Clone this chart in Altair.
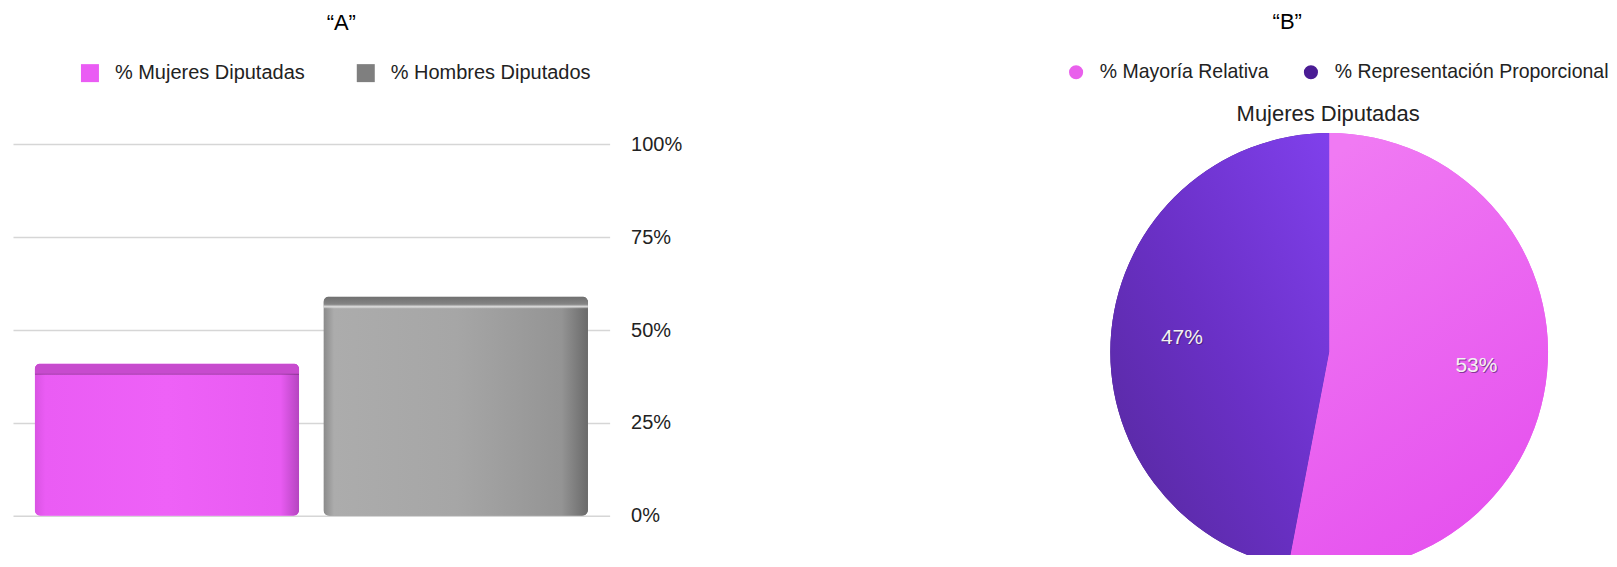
import altair as alt
import pandas as pd

FONT = "Liberation Sans"

# ---------------- data ----------------
bar_categories = ["% Mujeres Diputadas", "% Hombres Diputados"]
bar_values = [41, 59]
axis_ticks = [0, 25, 50, 75, 100]

pie_title = "Mujeres Diputadas"
pie_categories = ["% Mayoría Relativa", "% Representación Proporcional"]
pie_values = [53, 47]

# ---------------- styles ----------------
bar_legend_colors = ["#ea5cf4", "#7f7f7f"]
pie_legend_colors = ["#e960ec", "#4a1c94"]

bar_side_stops = [
    [(0, "#d853e2"), (0.04, "#ea5cf4"), (0.5, "#ee61f7"), (0.93, "#e85bf2"), (1, "#b545c0")],
    [(0, "#8a8a8a"), (0.04, "#acacac"), (0.5, "#a6a6a6"), (0.9, "#949494"), (1, "#6a6a6a")],
]
bar_top_stops = [
    [(0, "#c74bce"), (0.065, "#c74bce"), (0.075, "rgba(0,0,0,0)"), (1, "rgba(0,0,0,0)")],
    [(0, "#6f6f6f"), (0.035, "#858585"), (0.045, "#d6d6d6"), (0.055, "rgba(255,255,255,0)"),
     (1, "rgba(255,255,255,0)")],
]
pie_grads = [
    dict(x1=0.3, y1=0, x2=0.7, y2=1, stops=[(0, "#f07af3"), (1, "#e54fee")]),
    dict(x1=1, y1=0, x2=0, y2=1, stops=[(0, "#8040ec"), (0.5, "#6a30c6"), (1, "#54289a")]),
]


def grad(x1, y1, x2, y2, stops):
    return alt.LinearGradient(
        gradient="linear", x1=x1, y1=y1, x2=x2, y2=y2,
        stops=[alt.GradientStop(offset=o, color=c) for o, c in stops],
    )


# ---------------- left: bar chart ----------------
bar_df = pd.DataFrame({"cat": bar_categories, "value": bar_values})

x_enc = alt.X("cat:N", sort=bar_categories, axis=None,
              scale=alt.Scale(paddingInner=0.084, paddingOuter=0.075))
y_axis = alt.Axis(orient="right", values=axis_ticks, labelExpr="datum.value + '%'",
                  grid=True, gridColor="#d6d6d6", gridWidth=1.5, domain=False, ticks=False,
                  labelPadding=21, labelFont=FONT, labelFontSize=20, labelColor="#222222",
                  title=None)
y_enc = alt.Y("value:Q", scale=alt.Scale(domain=[0, 103], nice=False), axis=y_axis)

legend_bar = alt.Legend(title=None, orient="none", legendX=67, legendY=-70,
                        direction="horizontal", symbolType="square", symbolSize=324,
                        symbolStrokeWidth=0, symbolOpacity=1, labelFont=FONT, labelFontSize=20,
                        labelColor="#222222", labelOffset=15, columnPadding=50, labelLimit=600)

bar_layers = [
    alt.Chart(bar_df).mark_bar(cornerRadius=6).encode(
        x=x_enc, y=y_enc,
        color=alt.Color("cat:N", sort=bar_categories,
                        scale=alt.Scale(domain=bar_categories, range=bar_legend_colors),
                        legend=legend_bar),
    )
]
for cat, side, top in zip(bar_categories, bar_side_stops, bar_top_stops):
    for g in (grad(0, 0, 1, 0, side), grad(0, 0, 0, 1, top)):
        bar_layers.append(
            alt.Chart(bar_df).transform_filter(alt.datum.cat == cat)
            .mark_bar(cornerRadius=6, fill=g).encode(x=x_enc, y=y_enc)
        )

left = alt.layer(*bar_layers).properties(
    width=597, height=383,
    title=alt.TitleParams("“A”", font=FONT, fontSize=22, fontWeight="normal", color="#000000",
                          anchor="middle", frame="group", dx=30, offset=28),
)

# ---------------- right: pie chart ----------------
pie_df = pd.DataFrame({"cat": pie_categories, "value": pie_values,
                       "idx": list(range(len(pie_categories)))})

pie_base = (
    alt.Chart(pie_df)
    .transform_window(cum="sum(value)", sort=[alt.SortField("idx")], frame=[None, 0])
    .transform_calculate(start="datum.cum - datum.value",
                         mid="datum.cum - datum.value / 2",
                         label="datum.value + '%'")
)
theta_scale = alt.Scale(domain=[0, 100], range=[0, 6.283185307179586])
arc_enc = dict(theta=alt.Theta("start:Q", scale=theta_scale, stack=False), theta2="cum:Q")

legend_pie = alt.Legend(title=None, orient="none", legendX=-44, legendY=-71,
                        direction="horizontal", symbolType="circle", symbolSize=200,
                        symbolStrokeWidth=0, symbolOpacity=1, labelFont=FONT, labelFontSize=19.5,
                        labelColor="#222222", labelOffset=14, columnPadding=32, labelLimit=600)

R = 219
pie_layers = [
    pie_base.mark_arc(outerRadius=R).encode(
        **arc_enc,
        color=alt.Color("cat:N", sort=pie_categories,
                        scale=alt.Scale(domain=pie_categories, range=pie_legend_colors),
                        legend=legend_pie),
    )
]
for cat, g in zip(pie_categories, pie_grads):
    pie_layers.append(
        pie_base.transform_filter(alt.datum.cat == cat)
        .mark_arc(outerRadius=R, fill=grad(**g)).encode(**arc_enc)
    )

label_theta = alt.Theta("mid:Q", scale=theta_scale, stack=False)
pie_layers.append(
    pie_base.mark_text(radius=148, font=FONT, fontSize=21, color="#3a1450", opacity=0.55,
                       dx=1, dy=1).encode(theta=label_theta, text="label:N")
)
pie_layers.append(
    pie_base.mark_text(radius=148, font=FONT, fontSize=21, color="#f2f2f2")
    .encode(theta=label_theta, text="label:N")
)
pie_layers.append(
    alt.Chart(pd.DataFrame({"t": [pie_title]})).mark_text(
        font=FONT, fontSize=22, color="#222222", baseline="middle"
    ).encode(x=alt.value(218), y=alt.value(-19), text="t:N")
)

right = alt.layer(*pie_layers).properties(
    width=2 * R, height=2 * R,
    title=alt.TitleParams("“B”", font=FONT, fontSize=22, fontWeight="normal", color="#000000",
                          anchor="middle", frame="group", dx=-42, offset=28),
)

chart = (
    alt.hconcat(left, right, spacing=384)
    .resolve_scale(color="independent")
    .resolve_legend(color="independent")
    .properties(padding={"left": 5, "top": 3, "right": 0, "bottom": -16}, background="white")
    .configure_view(stroke=None)
)

chart.save("out.html", embed_options={"renderer": "svg", "actions": False})
